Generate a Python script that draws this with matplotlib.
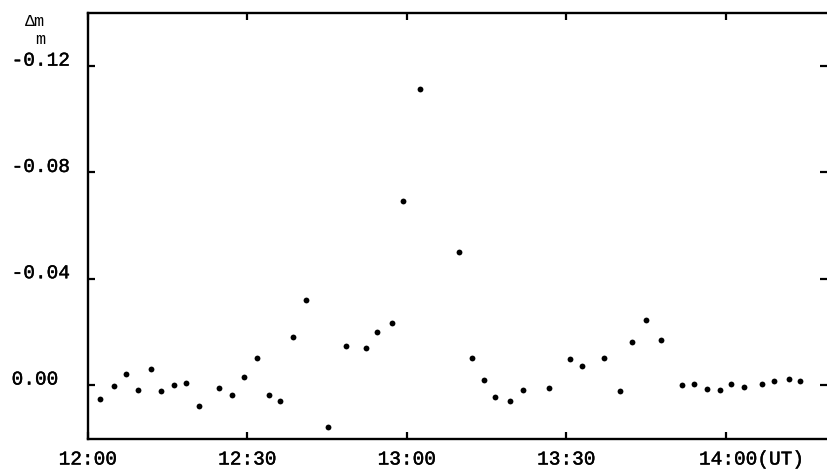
import matplotlib.pyplot as plt
import matplotlib.transforms as mtransforms
import matplotlib.patheffects as pe

# minutes after 12:00 UT and delta m / m
minutes = [2.3, 4.8, 7.2, 9.4, 11.9, 13.7, 16.1, 18.4, 20.8, 24.6, 27.0, 29.4,
           31.7, 34.0, 36.2, 38.6, 41.0, 45.2, 48.6, 52.2, 54.4, 57.1, 59.3, 62.5,
           69.7, 72.3, 74.4, 76.6, 79.4, 81.8, 86.8, 90.6, 92.9, 97.1, 100.1, 102.4,
           104.9, 107.7, 111.8, 113.9, 116.4, 118.8, 121.0, 123.4, 126.8, 129.1,
           131.8, 134.0]
dm = [0.0051, 0.0003, -0.0040, 0.0020, -0.0059, 0.0023, 0.0000, -0.0009, 0.0079,
      0.0010, 0.0039, -0.0031, -0.0103, 0.0038, 0.0061, -0.0182, -0.0319, 0.0157,
      -0.0146, -0.0140, -0.0201, -0.0232, -0.0692, -0.1114, -0.0501, -0.0100,
      -0.0019, 0.0044, 0.0060, 0.0019, 0.0010, -0.0099, -0.0071, -0.0100, 0.0023,
      -0.0162, -0.0246, -0.0169, -0.0001, -0.0003, 0.0016, 0.0018, -0.0003, 0.0008,
      -0.0004, -0.0014, -0.0024, -0.0014]

xticks = [0, 30, 60, 90, 120]
xlabels = ['12:00', '12:30', '13:00', '13:30', '14:00(UT)']
yticks = [0.00, -0.04, -0.08, -0.12]
ylabels = ['0.00', '-0.04', '-0.08', '-0.12']

plt.rcParams['font.family'] = ['Liberation Mono', 'DejaVu Sans Mono']

fig = plt.figure(figsize=(8.27, 4.73), dpi=100)
ax = fig.add_axes([88/827, 1 - 439/473, 1 - 88/827, (439 - 13)/473])

ax.plot(minutes, dm, 'o', color='black', ms=4.2, mec='none', clip_on=False)

ax.set_xlim(0, 139)
ax.set_ylim(0.0203, -0.140)

ax.set_xticks(xticks)
ax.set_xticklabels(xlabels, fontsize=14)
ax.set_yticks(yticks)
ax.set_yticklabels(ylabels, fontsize=14, ha='left')

ax.tick_params(direction='in', length=5, width=1.6, top=True, right=True)
ax.tick_params(axis='y', pad=55)
ax.tick_params(axis='x', pad=9)

for s in ['left', 'top', 'bottom']:
    ax.spines[s].set_linewidth(1.7)
ax.spines['right'].set_visible(False)

# labels sit a little above their ticks
up = mtransforms.ScaledTranslation(0, 7/100, fig.dpi_scale_trans)
for lab in ax.get_yticklabels():
    lab.set_transform(lab.get_transform() + up)

last = ax.get_xticklabels()[-1]
last.set_ha('left')
last.set_transform(last.get_transform() + mtransforms.ScaledTranslation(-27/100, 0, fig.dpi_scale_trans))

# typewriter look: a touch heavier than the regular face
heavy = [pe.withStroke(linewidth=0.3, foreground='black')]
for lab in ax.get_xticklabels() + ax.get_yticklabels():
    lab.set_path_effects(heavy)

fig.text(35/827, 1 - 31/473, 'Δm\nm', ha='center', va='center', fontsize=12,
         linespacing=1.25, multialignment='right')

fig.savefig('out.png', dpi=100)
